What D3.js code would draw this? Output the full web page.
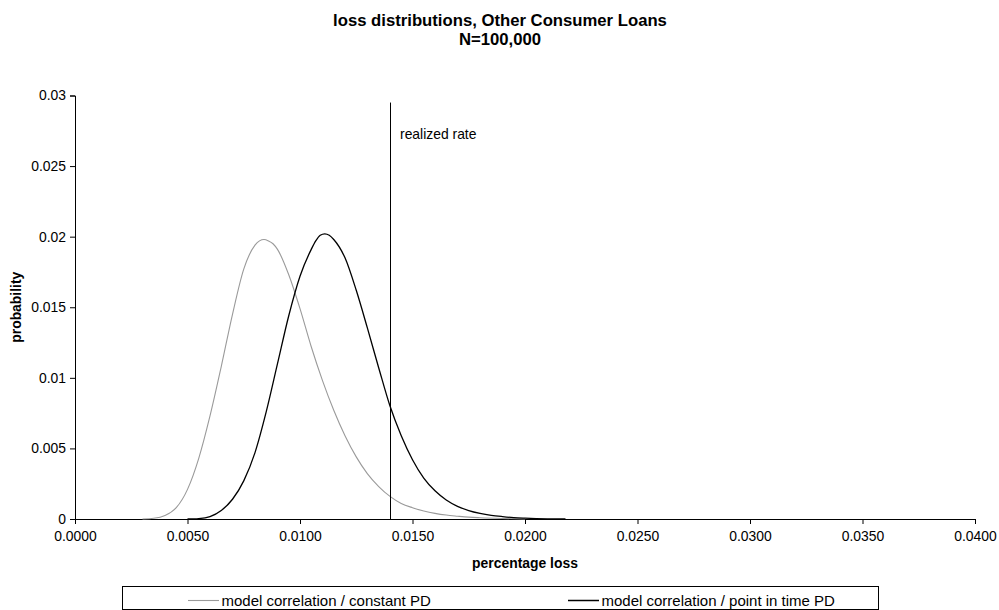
<!DOCTYPE html>
<html>
<head>
<meta charset="utf-8">
<script src="https://cdn.jsdelivr.net/npm/d3@7/dist/d3.min.js"></script>
<style>
  html, body { margin: 0; padding: 0; background: #fff; }
  svg { display: block; font-family: "Liberation Sans", Arial, sans-serif; }
</style>
</head>
<body>
<svg id="chart" width="999" height="610"></svg>
<script>
// Loss grid (fraction of portfolio) and probability per bucket, constant-PD model
const constantX = [0.0030, 0.0035, 0.0040, 0.0045, 0.0050, 0.0055, 0.0060, 0.0065, 0.0070, 0.0075,
  0.0080, 0.0082, 0.0084, 0.0086, 0.0088, 0.0090, 0.0095, 0.0100, 0.0105, 0.0110,
  0.0115, 0.0120, 0.0125, 0.0130, 0.0135, 0.0140, 0.0145, 0.0150, 0.0155, 0.0160,
  0.0165, 0.0170, 0.0175, 0.0180, 0.0190, 0.0200];
const constantP = [0, 0.00005, 0.00025, 0.0008, 0.0021, 0.0043, 0.0073, 0.0108, 0.0145, 0.0177,
  0.0194, 0.0197, 0.0198, 0.0197, 0.0195, 0.0191, 0.0173, 0.0149, 0.0122, 0.0098,
  0.0077, 0.0059, 0.0044, 0.0032, 0.0023, 0.0016, 0.0011, 0.0008, 0.00057, 0.0004,
  0.00028, 0.0002, 0.00013, 0.00009, 0.00004, 0.00001];

// Point-in-time PD model
const pitX = [0.0050, 0.0055, 0.0060, 0.0065, 0.0070, 0.0075, 0.0080, 0.0085, 0.0090, 0.0095,
  0.0100, 0.0105, 0.0107, 0.0109, 0.0111, 0.0113, 0.0115, 0.0120, 0.0125, 0.0130,
  0.0135, 0.0140, 0.0145, 0.0150, 0.0155, 0.0160, 0.0165, 0.0170, 0.0175, 0.0180,
  0.0185, 0.0190, 0.0195, 0.0200, 0.0205, 0.0210, 0.0218];
const pitP = [0, 0.00003, 0.00017, 0.0006, 0.0014, 0.0027, 0.0047, 0.0076, 0.0110, 0.0144,
  0.0172, 0.0191, 0.0197, 0.0201, 0.0202, 0.0201, 0.0198, 0.0185, 0.0162, 0.0135,
  0.0107, 0.0080, 0.0059, 0.0042, 0.0029, 0.0020, 0.00135, 0.0009, 0.0006, 0.0004,
  0.00026, 0.00017, 0.0001, 0.00006, 0.00003, 0.00001, 0];

// Observed loss rate and height of its marker line
const realizedRate = 0.0140;
const realizedTop = 0.0295;

const xTicks = [0, 0.005, 0.01, 0.015, 0.02, 0.025, 0.03, 0.035, 0.04];
const yTicks = [0, 0.005, 0.01, 0.015, 0.02, 0.025, 0.03];

const seriesNames = ["model correlation / constant PD", "model correlation / point in time PD"];
const seriesColors = ["#9a9a9a", "#000000"];

const svg = d3.select("#chart");
const plot = { left: 75, right: 975, top: 95.5, bottom: 519 };

const x = d3.scaleLinear().domain([0, 0.04]).range([plot.left, plot.right]);
const y = d3.scaleLinear().domain([0, 0.03]).range([plot.bottom, plot.top]);

// Title
svg.append("text").attr("x", 500).attr("y", 26).attr("text-anchor", "middle")
  .attr("font-size", "16.7px").attr("font-weight", "bold")
  .text("loss distributions, Other Consumer Loans");
svg.append("text").attr("x", 500).attr("y", 45).attr("text-anchor", "middle")
  .attr("font-size", "16.7px").attr("font-weight", "bold")
  .text("N=100,000");

// Axes
const xAxis = d3.axisBottom(x).tickValues(xTicks).tickFormat(d3.format(".4f")).tickSize(5).tickPadding(7);
const gx = svg.append("g").attr("transform", `translate(0,${plot.bottom})`).call(xAxis);
const yAxis = d3.axisLeft(y).tickValues(yTicks).tickFormat(d => d === 0 ? "0" : String(+d.toFixed(3))).tickSize(5).tickPadding(4);
const gy = svg.append("g").attr("transform", `translate(${plot.left},0)`).call(yAxis);
[gx, gy].forEach(g => {
  g.select(".domain").attr("stroke", "#000").attr("stroke-width", 1);
  g.selectAll(".tick line").attr("stroke", "#000");
  g.selectAll(".tick text").attr("font-size", "13.9px").attr("fill", "#000")
    .attr("font-family", "Liberation Sans, Arial, sans-serif");
});

// Axis titles
svg.append("text").attr("x", (plot.left + plot.right) / 2).attr("y", 568)
  .attr("text-anchor", "middle").attr("font-size", "13.9px").attr("font-weight", "bold")
  .text("percentage loss");
svg.append("text").attr("transform", `translate(21,${(plot.top + plot.bottom) / 2}) rotate(-90)`)
  .attr("text-anchor", "middle").attr("font-size", "13.9px").attr("font-weight", "bold")
  .text("probability");

// Distribution curves
const line = d3.line().x(d => x(d[0])).y(d => y(d[1])).curve(d3.curveMonotoneX);
svg.append("path").datum(d3.zip(constantX, constantP)).attr("d", line)
  .attr("fill", "none").attr("stroke", seriesColors[0]).attr("stroke-width", 1.1);
svg.append("path").datum(d3.zip(pitX, pitP)).attr("d", line)
  .attr("fill", "none").attr("stroke", seriesColors[1]).attr("stroke-width", 1.3);

// Realized loss marker
const rx = Math.round(x(realizedRate)) + 0.5;
svg.append("line").attr("x1", rx).attr("x2", rx)
  .attr("y1", y(0)).attr("y2", y(realizedTop)).attr("stroke", "#000").attr("stroke-width", 1);
svg.append("text").attr("x", x(realizedRate) + 10).attr("y", 139)
  .attr("font-size", "13.9px").text("realized rate");

// Legend
const lg = svg.append("g");
const box = { x: 122, y: 586, w: 756, h: 23 };
lg.append("rect").attr("x", box.x + 0.5).attr("y", box.y + 0.5).attr("width", box.w).attr("height", box.h)
  .attr("fill", "#fff").attr("stroke", "#000").attr("stroke-width", 1);
const entryStart = [188, 568];
seriesNames.forEach((name, i) => {
  const sx = entryStart[i];
  lg.append("line").attr("x1", sx).attr("x2", sx + 31)
    .attr("y1", box.y + 14.5).attr("y2", box.y + 14.5)
    .attr("stroke", seriesColors[i]).attr("stroke-width", i === 0 ? 1.1 : 1.5);
  lg.append("text").attr("font-size", "15px").attr("x", sx + 33.5).attr("y", box.y + 20).text(name);
});
</script>
</body>
</html>
